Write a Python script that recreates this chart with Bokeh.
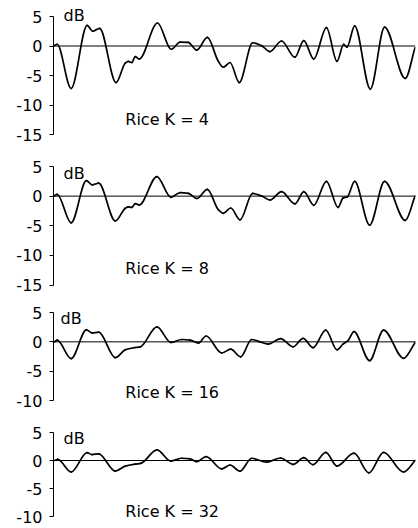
import numpy as np
from bokeh.plotting import figure
from bokeh.layouts import column
from bokeh.models import Range1d, Span, Label, FixedTicker
from bokeh.embed import file_html
from bokeh.resources import INLINE

# ---- data (x: time, arbitrary units; y: dB) ----
k4_x = [0.3, 3.7, 17.7, 33.7, 39.3, 46.3, 62.7, 72, 75, 78.5, 82, 86, 104.3, 118,
        127, 135, 143.7, 154.3, 165.3, 170.3, 177, 186.3, 199.7, 208.7, 217, 228.7,
        242, 251, 261, 273.7, 284.3, 291, 294.3, 302, 317.7, 332, 352.7, 362.5]
k4_y = [0.0, 0.3, -7.2, 3.5, 2.5, 3.0, -6.2, -2.9, -2.6, -2.8, -1.8, -2.2, 3.9, -0.55,
        0.65, 0.6, -0.7, 1.45, -2.6, -3.6, -2.8, -6.2, 0.55, 0.05, -0.95, 0.85,
        -1.9, 0.9, -2.2, 3.1, -2.6, 0.3, -0.2, 3.4, -7.3, 3.2, -5.5, -0.3]

k8_x = [0.3, 3.7, 17.7, 33, 38.7, 45.3, 62, 72, 75, 78.5, 82, 86, 103.7, 117.7,
        127, 135.3, 143.7, 154.3, 165.3, 170.3, 177.7, 187, 199.7, 209, 217, 228.7,
        242, 251, 261, 273.7, 285.3, 290.5, 294.5, 302, 317, 332, 352.7, 362.5]
k8_y = [0.0, 0.3, -4.5, 2.6, 1.9, 2.2, -4.2, -2.05, -1.8, -1.9, -1.25, -1.5, 3.3, -0.2,
        0.6, 0.45, -0.4, 1.15, -2.3, -2.9, -2.0, -4.0, 0.45, 0.0, -0.65, 0.75,
        -1.3, 0.75, -1.55, 2.5, -1.9, -0.3, -0.15, 2.5, -4.9, 2.5, -4.1, 0.0]

k16_x = [1, 3.7, 17.7, 33, 38.7, 45.3, 62, 72, 80.3, 87, 103.7, 117.7, 128.7, 137,
         145.3, 153, 168.7, 177.7, 187.7, 198.7, 207, 215.3, 227.7, 240.3, 250.3,
         260.3, 273, 284.3, 290.3, 295.3, 301.3, 317, 331, 351, 362.7]
k16_y = [0.0, 0.3, -2.85, 2.05, 1.5, 1.65, -2.7, -1.35, -1.0, -0.85, 2.55, -0.1, 0.4, 0.3,
         -0.2, 1.0, -1.9, -1.25, -2.55, 0.4, 0.0, -0.4, 0.55, -0.85, 0.6,
         -1.0, 2.0, -1.35, -0.4, 0.2, 1.75, -3.2, 2.0, -2.8, -0.1]

k32_x = [1, 4.3, 17.7, 33.7, 38.7, 45.3, 62, 72, 82, 87.7, 103.7, 117.7, 128.7, 137,
         143.7, 153, 168.7, 177, 187, 198.7, 213.7, 227.7, 240.3, 251, 260.3, 273,
         284.3, 301.3, 316.3, 331, 351, 362.7]
k32_y = [0.0, 0.2, -2.05, 1.4, 1.05, 1.2, -1.9, -1.0, -0.65, -0.5, 1.9, -0.1, 0.4, 0.3,
         -0.2, 0.7, -1.5, -0.8, -1.9, 0.4, -0.3, 0.45, -0.7, 0.5, -0.75, 1.45,
         -1.0, 1.3, -2.2, 1.45, -2.05, 0.0]

labels = ["Rice K = 4", "Rice K = 8", "Rice K = 16", "Rice K = 32"]
ticks_a = [-15, -10, -5, 0, 5]
ticks_b = [-10, -5, 0, 5]

FONT = "DejaVu Sans"
FS = "16px"


def monotone_bezier(xs, ys):
    xs = np.asarray(xs, float)
    ys = np.asarray(ys, float)
    h = np.diff(xs)
    d = np.diff(ys) / h
    n = len(xs)
    m = np.zeros(n)
    m[0] = d[0]
    m[-1] = d[-1]
    for i in range(1, n - 1):
        if d[i - 1] * d[i] <= 0:
            m[i] = 0.0
        else:
            w1 = 2 * h[i] + h[i - 1]
            w2 = h[i] + 2 * h[i - 1]
            m[i] = (w1 + w2) / (w1 / d[i - 1] + w2 / d[i])
    return dict(x0=xs[:-1], y0=ys[:-1], x1=xs[1:], y1=ys[1:],
                cx0=xs[:-1] + h / 3, cy0=ys[:-1] + m[:-1] * h / 3,
                cx1=xs[1:] - h / 3, cy1=ys[1:] - m[1:] * h / 3)


def panel(xs, ys, ticks, label, height, top_off, px_db, db_x, db_y, lab_y):
    lo_tick = ticks[0]
    y_top = 5 + top_off / px_db
    y_bot = y_top - height / px_db
    p = figure(width=417, height=height, output_backend="svg", toolbar_location=None,
               x_range=Range1d(0, 363), y_range=Range1d(y_bot, y_top),
               x_axis_location=None, min_border_left=53, min_border_right=2,
               min_border_top=0, min_border_bottom=0)
    p.outline_line_color = None
    p.grid.visible = False
    p.background_fill_color = "white"
    p.border_fill_color = "white"
    ax = p.yaxis[0]
    ax.ticker = FixedTicker(ticks=ticks)
    ax.major_label_overrides = {t: str(t) for t in ticks}
    ax.bounds = (lo_tick, 5)
    ax.axis_line_color = "black"
    ax.axis_line_width = 1
    ax.major_tick_line_color = "black"
    ax.major_tick_out = 4
    ax.major_tick_in = 0
    ax.minor_tick_out = 0
    ax.minor_tick_in = 0
    ax.major_label_standoff = 7
    ax.major_label_text_font = FONT
    ax.major_label_text_font_size = FS
    ax.major_label_text_color = "black"

    p.add_layout(Span(location=0, dimension="width", line_color="black", line_width=1))
    b = monotone_bezier(xs, ys)
    p.bezier(**b, line_color="black", line_width=1.7, line_cap="round")
    p.add_layout(Label(x=db_x, y=db_y, text="dB", text_font=FONT, text_font_size=FS,
                       text_color="black", text_baseline="alphabetic"))
    p.add_layout(Label(x=72, y=lab_y, text=label, text_font=FONT, text_font_size=FS,
                       text_color="black", text_baseline="alphabetic"))
    return p


p1 = panel(k4_x, k4_y, ticks_a, labels[0], 150, 16.0, 5.9, 10, 5.17, -12.4)
p2 = panel(k8_x, k8_y, ticks_a, labels[1], 148, 16.0, 5.925, 10, 3.8, -12.2)
p3 = panel(k16_x, k16_y, ticks_b, labels[2], 118, 14.0, 5.87, 7, 3.98, -8.63)
p4 = panel(k32_x, k32_y, ticks_b, labels[3], 110, 16.0, 5.6, 10, 3.95, -9.05)

layout = column(p1, p2, p3, p4, spacing=0)
open("out.html", "w").write(file_html(layout, INLINE))
